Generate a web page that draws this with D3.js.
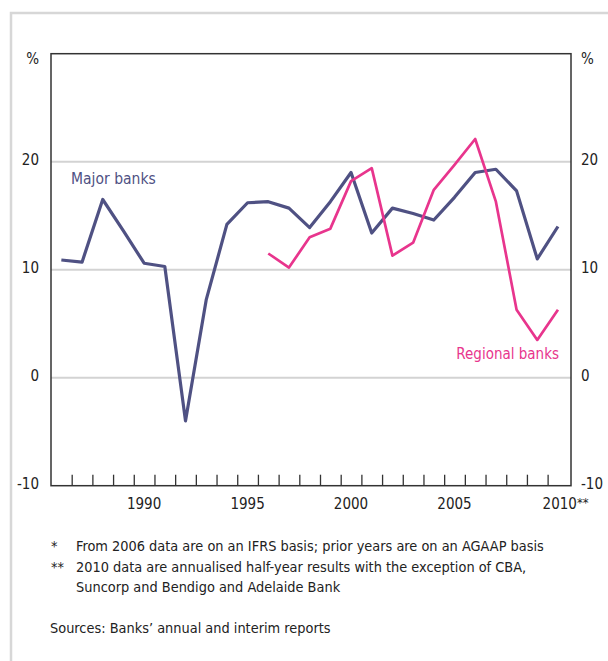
<!DOCTYPE html>
<html>
<head>
<meta charset="utf-8">
<script src="https://cdn.jsdelivr.net/npm/d3@7"></script>
<style>
  body { margin: 0; background: #fff; }
  svg text { font-family: "DejaVu Sans Condensed", "DejaVu Sans", sans-serif; }
</style>
</head>
<body>
<div id="chart"></div>
<script>
// annual values, plotted at mid-year
var majorYears = [1986, 1987, 1988, 1989, 1990, 1991, 1992, 1993, 1994, 1995, 1996, 1997, 1998,
                  1999, 2000, 2001, 2002, 2003, 2004, 2005, 2006, 2007, 2008, 2009, 2010];
var majorBanks = [10.9, 10.7, 16.5, 13.6, 10.6, 10.3, -4.0, 7.2, 14.2, 16.2, 16.3, 15.7, 13.9,
                  16.3, 19.0, 13.4, 15.7, 15.2, 14.6, 16.7, 19.0, 19.3, 17.3, 11.0, 14.0];
var regionalYears = [1996, 1997, 1998, 1999, 2000, 2001, 2002, 2003, 2004, 2005, 2006, 2007, 2008, 2009, 2010];
var regionalBanks = [11.5, 10.2, 13.0, 13.8, 18.2, 19.4, 11.3, 12.5, 17.4, 19.7, 22.1, 16.3, 6.3, 3.5, 6.3];

var yTicks = [-10, 0, 10, 20];
var xLabels = [1990, 1995, 2000, 2005, 2010];
var notes = [
  ["*", "From 2006 data are on an IFRS basis; prior years are on an AGAAP basis"],
  ["**", "2010 data are annualised half-year results with the exception of CBA,"],
  ["", "Suncorp and Bendigo and Adelaide Bank"]
];
var sourceText = "Sources: Banks\u2019 annual and interim reports";

var W = 608, H = 661;
var m = {left: 51, right: 571, top: 53.7, bottom: 485.7};

var svg = d3.select("#chart").append("svg")
  .attr("width", W)
  .attr("height", H);

// grey panel border (top and left edges)
svg.append("rect")
  .attr("x", 11).attr("y", 13)
  .attr("width", W).attr("height", H)
  .attr("fill", "none")
  .attr("stroke", "#d7d7d7")
  .attr("stroke-width", 2.5);

var x = d3.scaleLinear().domain([1986, 2011.13]).range([m.left, m.right]);
var y = d3.scaleLinear().domain([-10, 30]).range([m.bottom, m.top]);

// gridlines
svg.append("g")
  .selectAll("line")
  .data(yTicks.filter(function(d) { return d > -10; }))
  .join("line")
    .attr("x1", m.left).attr("x2", m.right)
    .attr("y1", function(d) { return y(d); })
    .attr("y2", function(d) { return y(d); })
    .attr("stroke", "#d3d3d3")
    .attr("stroke-width", 2);

// year ticks along bottom, pointing up
svg.append("g")
  .attr("transform", "translate(0," + m.bottom + ")")
  .call(d3.axisTop(x).tickValues(d3.range(1987, 2011)).tickSize(11).tickFormat(""))
  .call(function(g) {
    g.select(".domain").remove();
    g.selectAll("line").attr("stroke", "#333").attr("stroke-width", 1.3);
  });

// frame
svg.append("rect")
  .attr("x", m.left).attr("y", m.top)
  .attr("width", m.right - m.left).attr("height", m.bottom - m.top)
  .attr("fill", "none")
  .attr("stroke", "#333")
  .attr("stroke-width", 1.5);

// y labels, both sides
var yl = svg.append("g").attr("font-size", 15).attr("fill", "#222");
yl.selectAll("text.l")
  .data(yTicks)
  .join("text")
    .attr("class", "l")
    .attr("x", 39)
    .attr("y", function(d) { return y(d) - 2; })
    .attr("text-anchor", "end")
    .attr("dominant-baseline", "central")
    .text(function(d) { return d; });
yl.selectAll("text.r")
  .data(yTicks)
  .join("text")
    .attr("class", "r")
    .attr("x", 581)
    .attr("y", function(d) { return y(d) - 2; })
    .attr("dominant-baseline", "central")
    .text(function(d) { return d; });
yl.append("text").attr("x", 39).attr("y", 59).attr("text-anchor", "end")
  .attr("dominant-baseline", "central").text("%");
yl.append("text").attr("x", 581).attr("y", 59)
  .attr("dominant-baseline", "central").text("%");

// x labels, centred on the year
svg.append("g").attr("font-size", 15).attr("fill", "#222")
  .selectAll("text")
  .data(xLabels)
  .join("text")
    .attr("x", function(d) { return x(d + 0.5); })
    .attr("y", 504)
    .attr("text-anchor", "middle")
    .attr("dominant-baseline", "central")
    .text(function(d) { return d; })
  .filter(function(d) { return d === 2010; })
    .attr("x", function(d) { return x(d) - 5; })
    .attr("text-anchor", "start")
    .append("tspan")
    .attr("font-size", 13)
    .attr("dy", -2)
    .text("**");

var line = d3.line()
  .x(function(d) { return x(d[0] + 0.5); })
  .y(function(d) { return y(d[1]); });

svg.append("path")
  .datum(d3.zip(majorYears, majorBanks))
  .attr("fill", "none")
  .attr("stroke", "#4f5183")
  .attr("stroke-width", 3.2)
  .attr("stroke-linejoin", "round")
  .attr("d", line);

svg.append("path")
  .datum(d3.zip(regionalYears, regionalBanks))
  .attr("fill", "none")
  .attr("stroke", "#e8358d")
  .attr("stroke-width", 2.7)
  .attr("stroke-linejoin", "round")
  .attr("d", line);

// series labels
svg.append("text")
  .attr("x", 71).attr("y", 179)
  .attr("dominant-baseline", "central")
  .attr("font-size", 15.5)
  .attr("fill", "#4f5183")
  .text("Major banks");
svg.append("text")
  .attr("x", 559).attr("y", 354)
  .attr("text-anchor", "end")
  .attr("dominant-baseline", "central")
  .attr("font-size", 15)
  .attr("fill", "#e8358d")
  .text("Regional banks");

// notes
var nt = svg.append("g").attr("font-size", 14.4).attr("fill", "#222");
notes.forEach(function(n, i) {
  var yy = 546 + i * 20.5;
  nt.append("text").attr("x", 51).attr("y", yy).attr("dominant-baseline", "central").text(n[0]);
  nt.append("text").attr("x", 76).attr("y", yy).attr("dominant-baseline", "central").text(n[1]);
});
nt.append("text").attr("x", 50).attr("y", 628).attr("dominant-baseline", "central").text(sourceText);
</script>
</body>
</html>
